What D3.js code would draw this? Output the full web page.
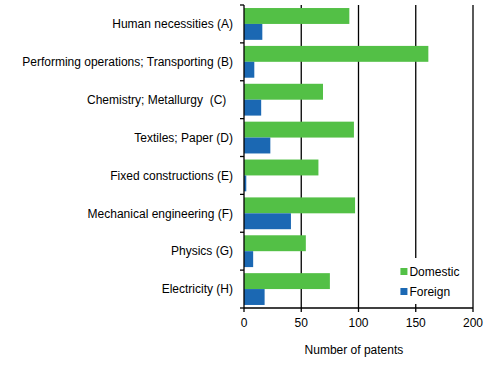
<!DOCTYPE html>
<html>
<head>
<meta charset="utf-8">
<script src="https://cdn.jsdelivr.net/npm/d3@7"></script>
<style>
  body { margin: 0; background: #fff; }
  text { font-family: "Liberation Sans", Arial, sans-serif; font-size: 12px; fill: #000; white-space: pre; }
</style>
</head>
<body>
<svg id="chart"></svg>
<script>
// data
var categories = ["Human necessities (A)", "Performing operations; Transporting (B)", "Chemistry; Metallurgy  (C)  ",
    "Textiles; Paper (D)", "Fixed constructions (E)", "Mechanical engineering (F)", "Physics (G)", "Electricity (H)"];
var domestic = [92, 161, 69, 96, 65, 97, 54, 75];
var foreign = [16, 9, 15, 23, 2, 41, 8, 18];
var seriesNames = ["Domestic", "Foreign"];
var seriesColors = ["#53c046", "#1b68b3"];
var xTicks = [0, 50, 100, 150, 200];

var W = 493, H = 386;
var margin = {top: 5, right: 20, bottom: 78, left: 244},
    width = 473 - margin.left,
    height = 308 - margin.top;

var svg = d3.select("#chart")
    .attr("width", W)
    .attr("height", H)
    .append("g")
    .attr("transform", "translate(" + margin.left + "," + margin.top + ")");

var x = d3.scaleLinear().domain([0, 200]).range([0, width]);
var y = d3.scaleBand().domain(categories).range([0, height]).paddingInner(0.16).paddingOuter(0.08);
var sub = d3.scaleBand().domain(seriesNames).range([0, y.bandwidth()]);

// grid lines
svg.selectAll(".grid")
    .data(xTicks.slice(1))
    .enter()
    .append("line")
    .attr("x1", function(d) { return x(d); })
    .attr("x2", function(d) { return x(d); })
    .attr("y1", 0)
    .attr("y2", height)
    .attr("stroke", "#000")
    .attr("stroke-width", 1.3);

// bars
var rows = categories.map(function(c, i) { return {cat: c, vals: [domestic[i], foreign[i]]}; });
var g = svg.selectAll(".row")
    .data(rows)
    .enter()
    .append("g")
    .attr("transform", function(d) { return "translate(0," + y(d.cat) + ")"; });

g.selectAll("rect")
    .data(function(d) { return d.vals.map(function(v, j) { return {name: seriesNames[j], v: v}; }); })
    .enter()
    .append("rect")
    .attr("x", x(0))
    .attr("y", function(d) { return sub(d.name); })
    .attr("width", function(d) { return x(d.v) - x(0); })
    .attr("height", sub.bandwidth())
    .style("fill", function(d, j) { return seriesColors[j]; });

// y axis: line + ticks at band boundaries
svg.append("line")
    .attr("x1", 0).attr("x2", 0).attr("y1", 0).attr("y2", height)
    .attr("stroke", "#000").attr("stroke-width", 1.3);
var bounds = d3.range(categories.length + 1).map(function(i) { return i * height / categories.length; });
svg.selectAll(".ytick")
    .data(bounds)
    .enter()
    .append("line")
    .attr("x1", -4).attr("x2", 0)
    .attr("y1", function(d) { return d; })
    .attr("y2", function(d) { return d; })
    .attr("stroke", "#000").attr("stroke-width", 1.3);

svg.selectAll(".ylab")
    .data(categories)
    .enter()
    .append("text")
    .attr("x", -11)
    .attr("y", function(d) { return y(d) + y.bandwidth() / 2; })
    .attr("dy", "0.35em")
    .attr("text-anchor", "end")
    .text(function(d) { return d; });

// x axis
svg.append("line")
    .attr("x1", 0).attr("x2", width).attr("y1", height).attr("y2", height)
    .attr("stroke", "#000").attr("stroke-width", 1.3);
svg.selectAll(".xtick")
    .data(xTicks)
    .enter()
    .append("line")
    .attr("x1", function(d) { return x(d); })
    .attr("x2", function(d) { return x(d); })
    .attr("y1", height).attr("y2", height + 4)
    .attr("stroke", "#000").attr("stroke-width", 1.3);
svg.selectAll(".xlab")
    .data(xTicks)
    .enter()
    .append("text")
    .attr("x", function(d) { return x(d); })
    .attr("y", height + 19)
    .attr("text-anchor", "middle")
    .text(function(d) { return d; });

svg.append("text")
    .attr("x", x(96))
    .attr("y", height + 46)
    .attr("text-anchor", "middle")
    .text("Number of patents");

// legend
var legend = svg.append("g").attr("transform", "translate(" + (x(134)) + "," + (height - 50) + ")");
legend.append("rect")
    .attr("x", 0).attr("y", 0).attr("width", 66).attr("height", 46)
    .style("fill", "#fff");
seriesNames.forEach(function(n, i) {
    legend.append("rect")
        .attr("x", 3).attr("y", 10 + i * 20)
        .attr("width", 7).attr("height", 7)
        .style("fill", seriesColors[i]);
    legend.append("text")
        .attr("x", 12).attr("y", 18 + i * 20)
        .text(n);
});
</script>
</body>
</html>
